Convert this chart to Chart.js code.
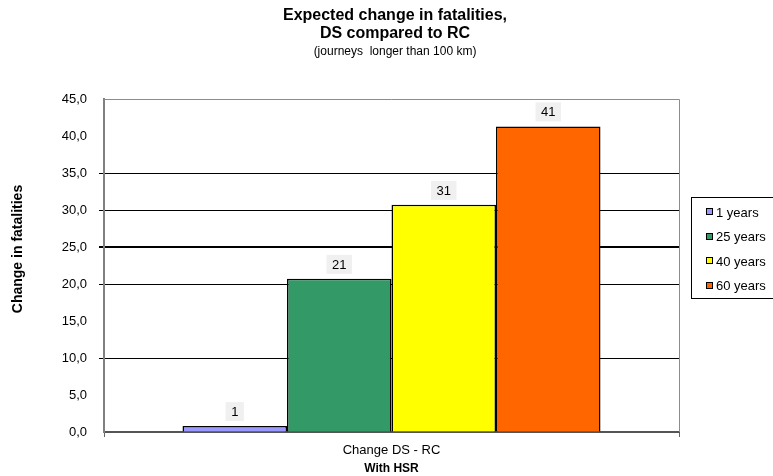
<!DOCTYPE html>
<html>
<head>
<meta charset="utf-8">
<script src="https://cdn.jsdelivr.net/npm/chart.js@4"></script>
<style>
  html, body { margin: 0; padding: 0; background: #fff; }
  #wrap { width: 773px; height: 476px; position: relative; }
</style>
</head>
<body>
<div id="wrap"><canvas id="c" width="773" height="476"></canvas></div>
<script>
const categories = ['Change DS - RC'];
const seriesNames = ['1 years', '25 years', '40 years', '60 years'];
const seriesValues = [[0.8], [20.7], [30.7], [41.3]];
const seriesColors = ['#9999ff', '#339966', '#ffff00', '#ff6600'];
const gridValues = [10, 20, 25, 30, 35];
const yAxisTitle = 'Change in fatalities';

const FONT = "'Liberation Sans', Arial, Helvetica, sans-serif";

const extras = {
  id: 'extras',
  afterDatasetsDraw(chart) {
    const ctx = chart.ctx;
    const a = chart.chartArea;
    ctx.save();
    // plot border top/right
    ctx.strokeStyle = '#8c8c8c';
    ctx.lineWidth = 1;
    ctx.beginPath();
    ctx.moveTo(a.left, a.top + 0.5);
    ctx.lineTo(a.right + 0.5, a.top + 0.5);
    ctx.lineTo(a.right + 0.5, a.bottom);
    ctx.stroke();
    // data labels
    ctx.font = '13px ' + FONT;
    ctx.textAlign = 'center';
    ctx.textBaseline = 'middle';
    chart.data.datasets.forEach((ds, i) => {
      const meta = chart.getDatasetMeta(i);
      meta.data.forEach((el, j) => {
        const txt = String(Math.round(ds.data[j]));
        const w = ctx.measureText(txt).width + 11;
        const h = 19;
        const bx = el.x - w / 2;
        const by = el.y - 5 - h;
        ctx.fillStyle = '#f0f0f0';
        ctx.fillRect(bx, by, w, h);
        ctx.fillStyle = '#000';
        ctx.fillText(txt, el.x, by + h / 2 + 1);
      });
    });
    // legend
    const lx = 691, ly = 197, lw = 100, lh = 101;
    ctx.strokeStyle = '#000';
    ctx.lineWidth = 1;
    ctx.strokeRect(lx + 0.5, ly + 0.5, lw, lh);
    ctx.textAlign = 'left';
    chart.data.datasets.forEach((ds, i) => {
      const cy = 212 + i * 24.5;
      ctx.fillStyle = ds.backgroundColor;
      ctx.fillRect(706, Math.round(cy - 4), 7, 7);
      ctx.strokeStyle = '#000';
      ctx.strokeRect(706.5, Math.round(cy - 4) + 0.5, 6, 6);
      ctx.fillStyle = '#000';
      ctx.fillText(ds.label, 716, cy + 1);
    });
    // y axis title
    ctx.translate(18, 249);
    ctx.rotate(-Math.PI / 2);
    ctx.textAlign = 'center';
    ctx.font = 'bold 14px ' + FONT;
    ctx.fillText(yAxisTitle, 0, 0);
    ctx.restore();
  }
};

new Chart(document.getElementById('c'), {
  type: 'bar',
  data: {
    labels: categories,
    datasets: seriesNames.map((n, i) => ({
      label: n,
      data: seriesValues[i],
      backgroundColor: seriesColors[i],
      borderColor: '#000',
      borderWidth: 1.5,
      categoryPercentage: 0.727,
      barPercentage: 1.0
    }))
  },
  options: {
    responsive: false,
    animation: false,
    devicePixelRatio: 1,
    layout: { padding: { left: 17, right: 0, top: 0, bottom: 0 } },
    plugins: {
      legend: { display: false },
      tooltip: { enabled: false },
      title: {
        display: true,
        text: ['Expected change in fatalities,', 'DS compared to RC'],
        color: '#000',
        font: { family: FONT, size: 16, weight: 'bold', lineHeight: 1.125 },
        padding: { top: 7, bottom: 1 }
      },
      subtitle: {
        display: true,
        text: '(journeys  longer than 100 km)',
        color: '#000',
        font: { family: FONT, size: 12, lineHeight: 1.2 },
        padding: { top: 0, bottom: 40.6 }
      }
    },
    scales: {
      x: {
        afterFit: s => { s.height = 44; },
        grid: { display: true, drawOnChartArea: false, tickLength: 5, color: '#666' },
        border: { color: '#555', width: 2 },
        ticks: { color: '#000', font: { family: FONT, size: 13 }, padding: 6 },
        title: {
          display: true, text: 'With HSR', color: '#000',
          font: { family: FONT, size: 12, weight: 'bold' },
          padding: { top: 2, bottom: 0 }
        }
      },
      y: {
        min: 0, max: 45,
        afterFit: s => { s.width = 87; },
        ticks: {
          stepSize: 5, color: '#000', padding: 12,
          font: { family: FONT, size: 13 },
          callback: v => v.toFixed(1).replace('.', ',')
        },
        grid: {
          tickLength: 5,
          color: c => gridValues.includes(c.tick.value) ? '#000' : 'rgba(0,0,0,0)',
          lineWidth: c => c.tick.value === 25 ? 2 : 1
        },
        border: { color: '#808080', width: 2 }
      },
      legendSpace: {
        type: 'linear',
        position: 'right',
        min: 0, max: 45,
        afterFit: s => { s.width = 94; },
        ticks: { display: false },
        grid: { display: false, drawTicks: false },
        border: { display: false }
      }
    }
  },
  plugins: [extras]
});
</script>
</body>
</html>
